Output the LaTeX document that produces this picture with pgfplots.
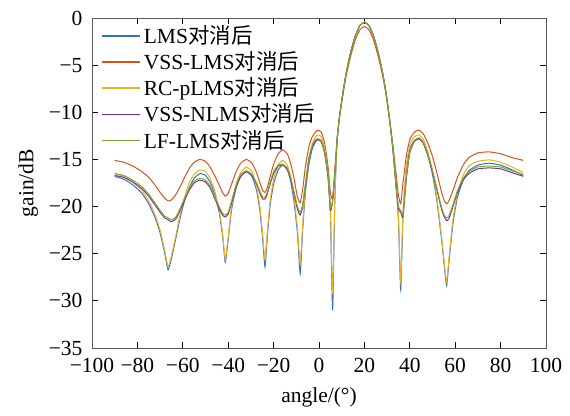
\documentclass[border=0pt]{standalone}
\usepackage{fontspec}
\setmainfont{Liberation Serif}
\newfontfamily\cjk{Noto Sans CJK SC}
\usepackage{pgfplots}
\pgfplotsset{compat=1.18}
\usepackage{pgfplotstable}
\definecolor{cb}{rgb}{0.2,0.45,0.78}
\definecolor{cr}{rgb}{0.85,0.325,0.098}
\definecolor{co}{rgb}{0.929,0.694,0.125}
\definecolor{cp}{rgb}{0.494,0.184,0.556}
\definecolor{cg}{rgb}{0.466,0.674,0.188}
\pgfplotstableread{
a b r o p g
-90 -16.8 -15.1 -16.5 -16.7 -16.5
-86 -17.1 -15.3 -16.8 -16.9 -16.7
-82 -17.7 -15.7 -17.4 -17.4 -17.2
-78 -18.6 -16.3 -18.3 -18.1 -17.9
-75 -19.7 -16.9 -19.4 -18.9 -18.7
-72 -21.3 -17.8 -21.0 -19.9 -19.7
-70 -22.8 -18.5 -22.5 -20.6 -20.4
-68 -24.9 -19.1 -24.6 -21.2 -21.0
-66.5 -26.7 -19.4 -26.4 -21.4 -21.2
-65 -25.5 -19.3 -25.2 -21.6 -21.4
-63 -23.3 -18.7 -23.0 -21.3 -21.1
-61 -21.0 -17.8 -20.6 -20.3 -20.1
-59 -19.2 -16.8 -18.8 -19.2 -19.0
-57 -17.9 -15.9 -17.4 -18.2 -18.0
-55 -17.0 -15.3 -16.6 -17.5 -17.3
-52.5 -16.5 -15.0 -16.1 -17.2 -17.0
-50 -16.7 -15.2 -16.3 -17.4 -17.2
-48 -17.4 -15.8 -17.0 -18.0 -17.8
-46 -18.6 -16.7 -18.3 -19.1 -18.9
-44 -20.6 -17.7 -20.3 -20.2 -20.0
-42.5 -23.0 -18.5 -22.8 -20.9 -20.7
-41.3 -25.9 -18.9 -25.6 -21.1 -20.9
-40 -23.5 -18.6 -23.2 -20.8 -20.6
-38.5 -20.3 -17.6 -20.0 -19.6 -19.4
-36.5 -18.0 -16.3 -17.6 -17.9 -17.7
-34.5 -16.8 -15.4 -16.4 -16.8 -16.6
-32 -16.3 -15.0 -15.8 -16.3 -16.2
-29.5 -16.8 -15.4 -16.3 -16.7 -16.6
-27.5 -18.3 -16.4 -17.9 -17.6 -17.5
-26 -20.5 -17.5 -20.1 -18.6 -18.4
-24.8 -23.5 -18.3 -23.0 -19.2 -19.0
-23.8 -26.4 -18.5 -25.6 -19.2 -19.0
-22.8 -23.3 -18.0 -22.8 -18.7 -18.5
-21.5 -19.8 -16.8 -19.3 -17.6 -17.4
-20 -17.6 -15.5 -17.1 -16.5 -16.3
-18 -16.1 -14.4 -15.6 -15.7 -15.6
-16 -15.6 -14.0 -15.1 -15.6 -15.5
-14 -16.1 -14.4 -15.6 -16.0 -15.9
-12.5 -17.3 -15.4 -16.8 -17.0 -16.9
-11 -19.5 -17.0 -19.0 -18.6 -18.4
-9.5 -22.8 -19.0 -22.3 -20.3 -20.0
-8.3 -27.1 -19.6 -26.0 -20.9 -20.6
-7.2 -22.5 -18.2 -22.0 -20.0 -19.8
-6 -18.5 -15.8 -18.0 -17.8 -17.6
-4.5 -15.6 -13.7 -15.1 -15.0 -14.9
-3 -13.9 -12.6 -13.4 -13.6 -13.5
-1.5 -13.1 -12.1 -12.6 -13.0 -12.9
-0.5 -12.9 -11.9 -12.4 -12.9 -12.8
1 -13.1 -12.1 -12.6 -13.1 -13.0
2.5 -14.3 -13.3 -13.8 -14.3 -14.2
4 -17.0 -15.8 -16.5 -16.8 -16.7
5 -20.5 -18.5 -20.0 -20.4 -20.2
6 -31.0 -19.2 -29.3 -19.5 -19.3
7 -19.0 -16.0 -18.8 -16.5 -16.4
8 -13.0 -12.8 -13.0 -12.8 -12.8
9 -10.6 -10.6 -10.6 -10.5 -10.5
10.5 -8.0 -8.2 -8.0 -8.0 -8.0
12 -5.8 -6.1 -5.8 -5.8 -5.8
14 -3.6 -4.0 -3.6 -3.6 -3.6
16 -1.9 -2.3 -1.9 -1.9 -1.9
18 -0.8 -1.25 -0.8 -0.8 -0.8
20 -0.45 -0.9 -0.45 -0.45 -0.45
22 -0.8 -1.25 -0.8 -0.8 -0.8
24 -1.9 -2.3 -1.9 -1.9 -1.9
26 -3.6 -4.0 -3.6 -3.6 -3.6
28 -5.8 -6.1 -5.8 -5.8 -5.8
29.5 -7.9 -8.1 -7.9 -7.9 -7.9
31 -10.6 -10.6 -10.6 -10.6 -10.6
32.5 -13.8 -13.4 -13.7 -13.8 -13.7
34 -18.0 -16.6 -17.5 -18.0 -17.9
35 -21.5 -18.8 -21.0 -20.2 -20.0
36 -28.8 -19.7 -28.0 -20.6 -20.4
37 -21.0 -17.5 -20.5 -21.1 -20.9
38.5 -16.0 -14.6 -15.7 -17.0 -16.8
40 -13.9 -12.9 -13.5 -14.3 -14.2
42 -13.0 -12.1 -12.6 -13.1 -13.0
44 -12.8 -11.9 -12.4 -12.8 -12.7
46 -13.3 -12.3 -12.9 -13.3 -13.2
48 -14.6 -13.3 -14.2 -14.6 -14.5
50 -16.6 -14.7 -16.2 -16.3 -16.2
52 -19.5 -16.5 -19.2 -18.3 -18.1
54 -23.5 -18.5 -23.2 -20.3 -20.1
55.2 -26.3 -19.4 -26.0 -21.1 -20.9
56.2 -28.4 -19.7 -28.0 -21.5 -21.2
57.2 -26.0 -19.4 -25.6 -21.3 -21.0
59 -21.8 -18.3 -21.4 -20.0 -19.8
61 -19.0 -16.9 -18.6 -18.5 -18.3
63.5 -17.2 -15.6 -16.7 -17.2 -17.0
66 -16.2 -14.8 -15.7 -16.5 -16.3
70 -15.6 -14.3 -15.2 -16.0 -15.8
75 -15.4 -14.2 -15.05 -15.9 -15.7
80 -15.6 -14.4 -15.3 -16.0 -15.8
85 -16.1 -14.8 -15.8 -16.4 -16.2
90 -16.7 -15.1 -16.4 -16.8 -16.6
}\gaindata
\begin{document}
\fontsize{22}{26}\selectfont
\begin{tikzpicture}
\useasboundingbox (-92pt,-67pt) rectangle (478pt,348pt);
\begin{axis}[
  width=454pt, height=330pt, scale only axis,
  xmin=-100, xmax=100, ymin=-35, ymax=0,
  xtick={-100,-80,...,100},
  xticklabels={−100,−80,−60,−40,−20,0,20,40,60,80,100},
  ytick={-35,-30,...,0},
  yticklabels={−35,−30,−25,−20,−15,−10,−5,0},
  xticklabel style={yshift=-3pt},
  yticklabel style={xshift=-2pt},
  tick align=inside, major tick length=6pt,
  tick style={black, line width=0.8pt},
  axis line style={black!65, line width=0.9pt},
  font=\fontsize{21.5}{26}\selectfont,
  xlabel={angle/(°)}, ylabel={gain/dB},
  ylabel style={yshift=-4pt},
  legend cell align=left,
  legend style={draw=none, fill=none, at={(0,1)}, anchor=north west,
    xshift=9pt, yshift=-6pt, inner sep=0pt, row sep=2.8pt,
    nodes={inner xsep=3pt, inner ysep=1pt}},
  legend image code/.code={\draw[#1, line width=1.6pt, sharp plot] (0pt,0pt) -- (38pt,0pt);},
  every axis plot/.append style={line width=1pt, smooth, tension=0.3},
]
\addplot[cb] table[x=a,y=b] {\gaindata};
\addlegendentry{LMS{\cjk 对消后}}
\addplot[cr] table[x=a,y=r] {\gaindata};
\addlegendentry{VSS-LMS{\cjk 对消后}}
\addplot[co] table[x=a,y=o] {\gaindata};
\addlegendentry{RC-pLMS{\cjk 对消后}}
\addplot[cp] table[x=a,y=p] {\gaindata};
\addlegendentry{VSS-NLMS{\cjk 对消后}}
\addplot[cg] table[x=a,y=g] {\gaindata};
\addlegendentry{LF-LMS{\cjk 对消后}}
\end{axis}
\end{tikzpicture}
\end{document}
